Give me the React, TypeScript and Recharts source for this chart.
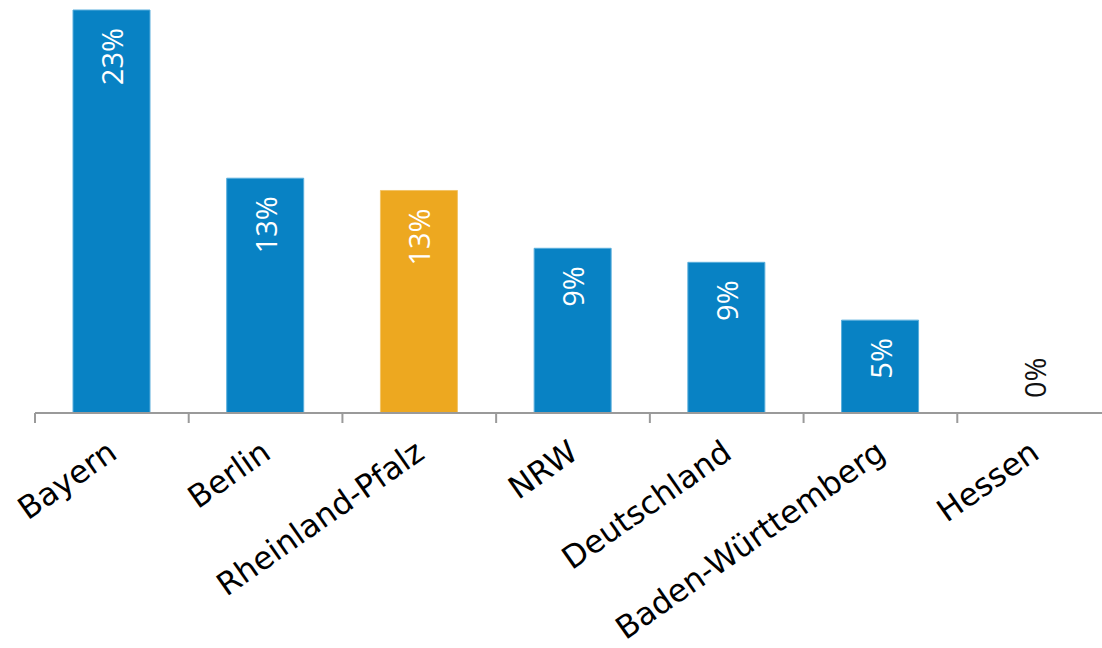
import { BarChart, Bar, XAxis, YAxis, Cell, LabelList } from 'recharts';

const laender = ['Bayern', 'Berlin', 'Rheinland-Pfalz', 'NRW', 'Deutschland', 'Baden-Württemberg', 'Hessen'];
const anteile = [23.0, 13.4, 12.7, 9.4, 8.6, 5.3, 0];
const hervorgehoben = 'Rheinland-Pfalz';

const daten = laender.map((land, i) => ({ land, anteil: anteile[i] }));

const BREITE = 1112;
const HOEHE = 648;
const RAND_LINKS = 35;
const RAND_RECHTS = 1;
// Breite einer Kategorie, damit die Striche zwischen den Balken sitzen
const bandBreite = (BREITE - RAND_LINKS - RAND_RECHTS) / laender.length;

const wertFont = { fontFamily: "'Open Sans', sans-serif", fontSize: 29 };

function LandTick({ x, y, payload, index }: any) {
  const tx = x - bandBreite / 2;
  const lx = x + 7;
  const ly = y + 44;
  const wert = anteile[index];
  const zy = y - 15;
  return (
    <g>
      <line x1={tx} y1={y} x2={tx} y2={y + 10} stroke="#9a9a9a" strokeWidth={2} />
      <text
        x={lx}
        y={ly}
        transform={`rotate(-35, ${lx}, ${ly})`}
        textAnchor="end"
        style={{ fontFamily: "'DejaVu Sans', Verdana, sans-serif", fontSize: 31.5 }}
        fill="#000"
      >
        {payload.value}
      </text>
      {/* bei 0 gibt es keinen Balken, der Wert steht dunkel über der Achse */}
      {wert === 0 && (
        <text x={x} y={zy} transform={`rotate(-90, ${x}, ${zy})`} textAnchor="start" dominantBaseline="central"
          fill="#111" style={wertFont}>
          {`${Math.round(wert)}%`}
        </text>
      )}
    </g>
  );
}

function WertLabel(props: any) {
  const { x, y, width, value } = props;
  if (!(value > 0)) return null;
  const cx = x + width / 2;
  const ty = y + 18;
  return (
    <text x={cx} y={ty} transform={`rotate(-90, ${cx}, ${ty})`} textAnchor="end" dominantBaseline="central"
      fill="#fff" style={wertFont}>
      {`${Math.round(value)}%`}
    </text>
  );
}

export default function App() {
  return (
    <div style={{ position: 'absolute', left: 0, top: 0, width: 1102, height: 648, overflow: 'hidden', background: '#fff' }}>
      <BarChart width={BREITE} height={HOEHE} data={daten} margin={{ top: 10, right: RAND_RECHTS, bottom: 0, left: RAND_LINKS }}>
        <XAxis
          dataKey="land"
          height={235}
          interval={0}
          tickSize={0}
          tickMargin={0}
          tickLine={false}
          axisLine={{ stroke: '#9a9a9a', strokeWidth: 2 }}
          tick={<LandTick />}
        />
        <YAxis hide domain={[0, 23]} />
        <Bar dataKey="anteil" barSize={77} isAnimationActive={false}>
          {daten.map((d) => (
            <Cell
              key={d.land}
              fill={d.land === hervorgehoben ? '#eda820' : '#0882c4'}
              stroke={d.land === hervorgehoben ? '#f3c467' : '#5aaedc'}
              strokeWidth={1}
            />
          ))}
          <LabelList dataKey="anteil" content={<WertLabel />} />
        </Bar>
      </BarChart>
    </div>
  );
}
